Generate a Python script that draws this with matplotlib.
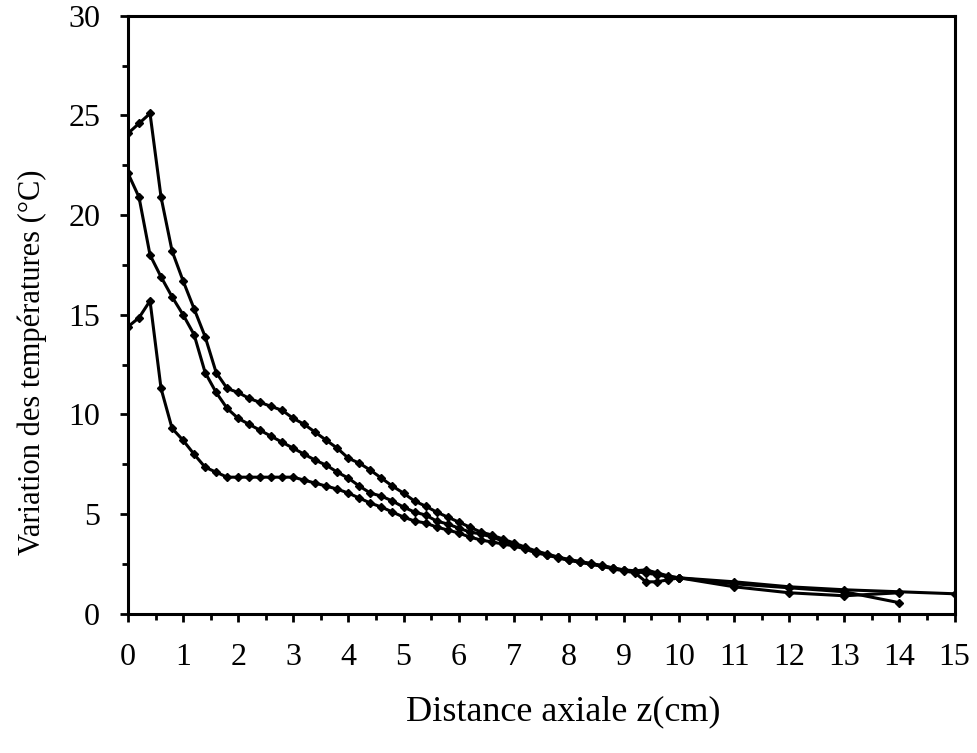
import matplotlib.pyplot as plt
from matplotlib.ticker import MultipleLocator

# courbe haute
zA = [0, 0.2, 0.4, 0.6, 0.8, 1.0, 1.2, 1.4, 1.6, 1.8, 2.0, 2.2, 2.4, 2.6, 2.8, 3.0,
      3.2, 3.4, 3.6, 3.8, 4.0, 4.2, 4.4, 4.6, 4.8, 5.0, 5.2, 5.4, 5.6, 5.8, 6.0,
      6.2, 6.4, 6.6, 6.8, 7.0, 7.2, 7.4, 7.6, 7.8, 8.0, 8.2, 8.4, 8.6, 8.8, 9.0,
      9.2, 9.4, 9.6, 9.8, 10, 11, 12, 13, 14, 15]
tA = [24.1, 24.6, 25.1, 20.9, 18.2, 16.7, 15.3, 13.9, 12.1, 11.3, 11.1, 10.8, 10.6, 10.4, 10.2, 9.8,
      9.5, 9.1, 8.7, 8.3, 7.8, 7.55, 7.2, 6.8, 6.4, 6.05, 5.65, 5.4, 5.1, 4.85, 4.6,
      4.35, 4.1, 3.95, 3.75, 3.55, 3.35, 3.15, 3.0, 2.85, 2.72, 2.62, 2.52, 2.42, 2.3, 2.2,
      2.15, 2.2, 2.05, 1.9, 1.8, 1.6, 1.35, 1.2, 1.1, 1.0]

# courbe milieu
zB = [0, 0.2, 0.4, 0.6, 0.8, 1.0, 1.2, 1.4, 1.6, 1.8, 2.0, 2.2, 2.4, 2.6, 2.8, 3.0,
      3.2, 3.4, 3.6, 3.8, 4.0, 4.2, 4.4, 4.6, 4.8, 5.0, 5.2, 5.4, 5.6, 5.8, 6.0,
      6.2, 6.4, 6.6, 6.8, 7.0, 7.2, 7.4, 7.6, 7.8, 8.0, 8.2, 8.4, 8.6, 8.8, 9.0,
      9.2, 9.4, 9.6, 9.8, 10, 11, 12, 13, 14]
tB = [22.1, 20.9, 18.0, 16.9, 15.9, 15.0, 14.0, 12.1, 11.1, 10.3, 9.8, 9.5, 9.2, 8.9, 8.6, 8.3,
      8.0, 7.7, 7.45, 7.1, 6.8, 6.4, 6.05, 5.9, 5.65, 5.35, 5.1, 4.95, 4.65, 4.5, 4.3,
      4.1, 4.0, 3.85, 3.65, 3.5, 3.3, 3.1, 2.95, 2.82, 2.7, 2.6, 2.5, 2.4, 2.28, 2.18,
      2.1, 2.05, 1.95, 1.85, 1.8, 1.5, 1.3, 1.1, 0.55]

# courbe basse
zC = [0, 0.2, 0.4, 0.6, 0.8, 1.0, 1.2, 1.4, 1.6, 1.8, 2.0, 2.2, 2.4, 2.6, 2.8, 3.0,
      3.2, 3.4, 3.6, 3.8, 4.0, 4.2, 4.4, 4.6, 4.8, 5.0, 5.2, 5.4, 5.6, 5.8, 6.0,
      6.2, 6.4, 6.6, 6.8, 7.0, 7.2, 7.4, 7.6, 7.8, 8.0, 8.2, 8.4, 8.6, 8.8, 9.0,
      9.2, 9.4, 9.6, 9.8, 10, 11, 12, 13, 14]
tC = [14.4, 14.85, 15.7, 11.3, 9.3, 8.7, 8.0, 7.35, 7.1, 6.85, 6.85, 6.85, 6.85, 6.85, 6.85, 6.85,
      6.7, 6.55, 6.4, 6.25, 6.05, 5.8, 5.55, 5.35, 5.1, 4.85, 4.65, 4.55, 4.35, 4.2, 4.05,
      3.85, 3.7, 3.6, 3.5, 3.4, 3.25, 3.05, 2.95, 2.8, 2.68, 2.58, 2.48, 2.38, 2.25, 2.15,
      2.05, 1.6, 1.6, 1.7, 1.8, 1.35, 1.05, 0.9, 1.05]

plt.rcParams['font.family'] = 'Liberation Serif'

fig = plt.figure(figsize=(9.77, 7.53), dpi=100)
ax = fig.add_axes([0.131, 0.185, 0.846, 0.794])

for z, t in [(zA, tA), (zB, tB), (zC, tC)]:
	ax.plot(z, t, color='black', linewidth=2.2, marker='D', markersize=4)

ax.set_xlim(0, 15)
ax.set_ylim(0, 30)
ax.xaxis.set_major_locator(MultipleLocator(1))
ax.xaxis.set_minor_locator(MultipleLocator(0.5))
ax.yaxis.set_major_locator(MultipleLocator(5))
ax.yaxis.set_minor_locator(MultipleLocator(2.5))
ax.tick_params(which='major', direction='out', length=6, width=2, labelsize=23)
ax.tick_params(axis='x', which='major', pad=15)
ax.tick_params(axis='y', which='major', pad=14)
ax.tick_params(which='minor', direction='out', length=4, width=2)
for s in ax.spines.values():
	s.set_linewidth(2.2)

ax.set_xlabel('Distance axiale z(cm)', fontsize=26)
ax.set_ylabel('Variation des températures (°C)', fontsize=22)
ax.xaxis.set_label_coords(0.527, -0.137)
ax.yaxis.set_label_coords(-0.098, 0.42)

plt.savefig('out.png', dpi=100)
